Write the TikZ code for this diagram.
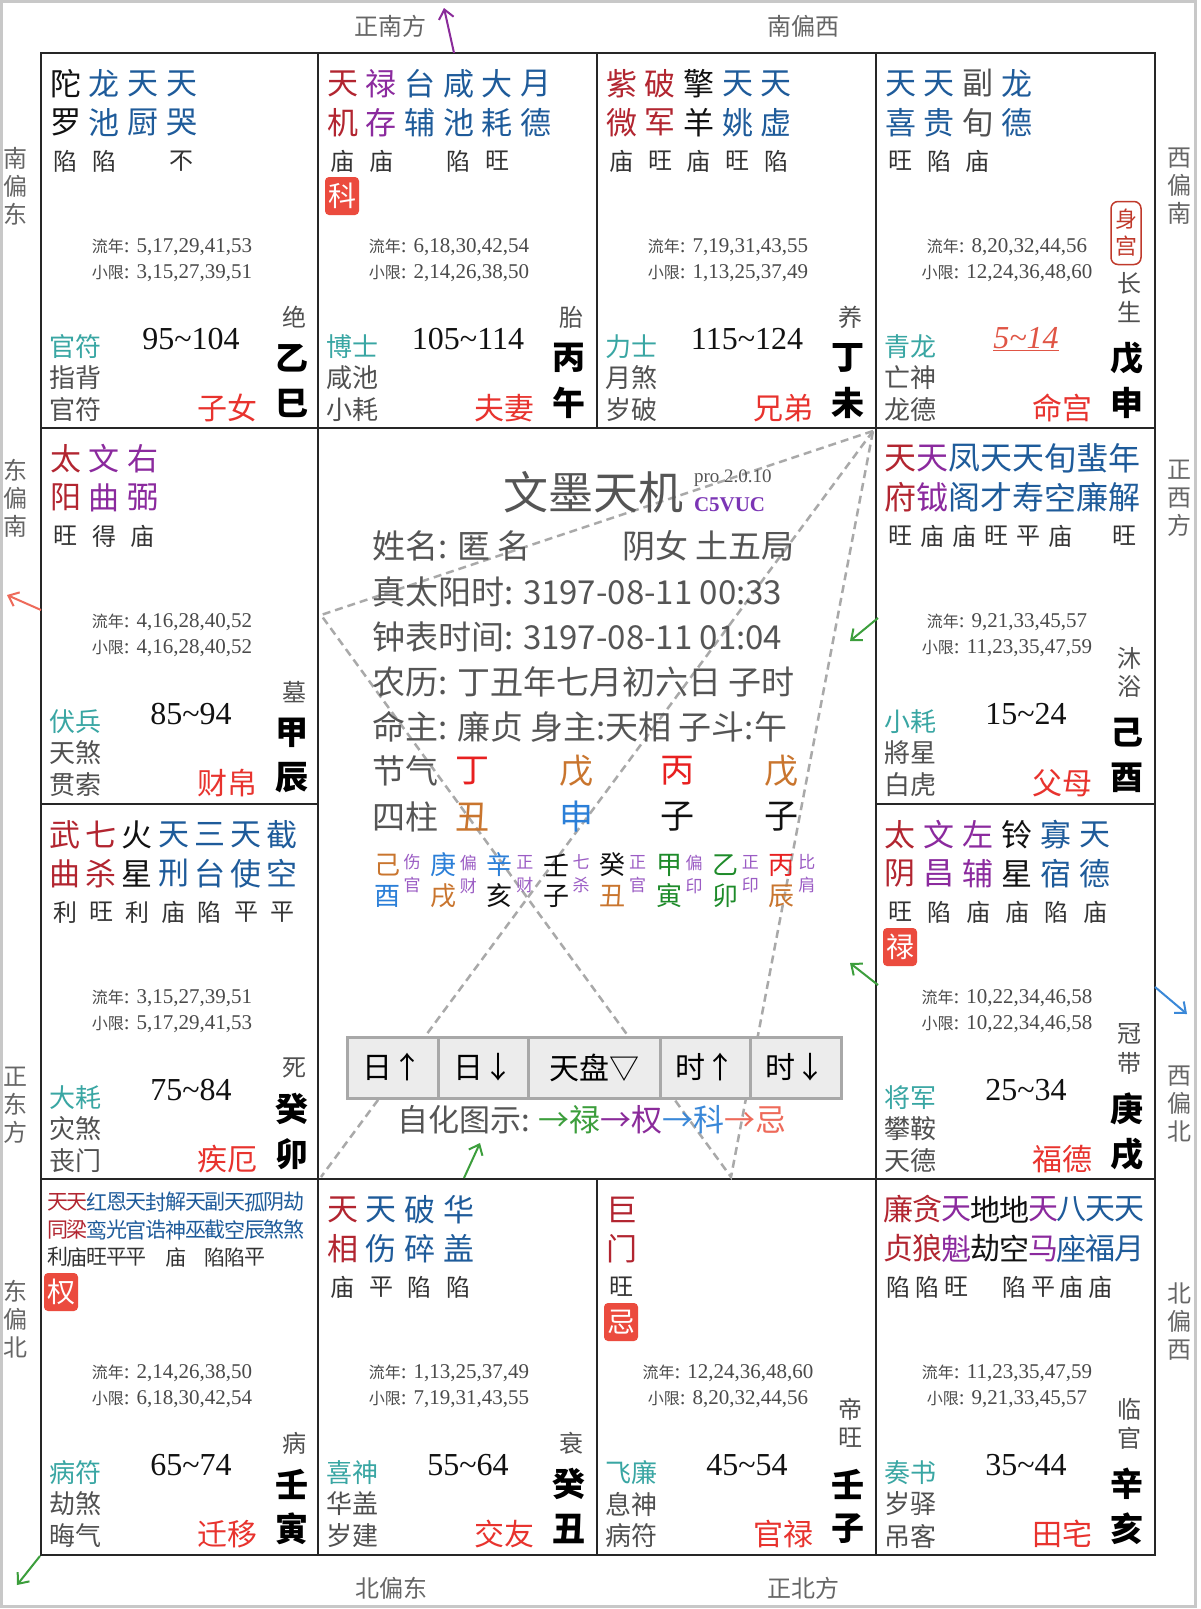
\documentclass[tikz,border=0pt]{standalone}
\usepackage{fontspec}
\setmainfont{Liberation Serif}
\newfontfamily\cjk{Noto Sans CJK SC}
\usetikzlibrary{arrows.meta}
\definecolor{cdr}{HTML}{B22530}
\definecolor{cpu}{HTML}{8B2A9E}
\definecolor{cbl}{HTML}{1E5B9A}
\definecolor{cbk}{HTML}{111111}
\definecolor{cgy}{HTML}{505050}
\definecolor{cbr}{HTML}{333333}
\definecolor{ctl}{HTML}{39A6A3}
\definecolor{cred}{HTML}{E8332E}
\definecolor{cln}{HTML}{4A4A4A}
\definecolor{cff}{HTML}{555555}
\definecolor{cbadge}{HTML}{EB4B3E}
\definecolor{cdir}{HTML}{666666}
\definecolor{cor}{HTML}{C9752E}
\definecolor{cblu}{HTML}{2B7FD8}
\definecolor{cgr}{HTML}{1E8B2A}
\definecolor{cst}{HTML}{E82020}
\definecolor{clab}{HTML}{9B5CC4}
\definecolor{ccode}{HTML}{7B35B5}
\definecolor{agr}{HTML}{3C9E3C}
\definecolor{apu}{HTML}{8A2B9A}
\definecolor{are}{HTML}{EE6A5A}
\definecolor{abl}{HTML}{3A88D8}
\definecolor{cshen}{HTML}{C0392B}
\definecolor{cage}{HTML}{E05545}
\definecolor{cbtn}{HTML}{ECECEC}
\definecolor{cbtnb}{HTML}{A8A8A8}
\definecolor{cframe}{HTML}{C8C8C8}
\definecolor{cdash}{HTML}{A9A9A9}
\newcommand\F[1]{\fontsize{#1}{#1}\selectfont}
\newcommand\tld{{\char"7E}}
\newcommand\CP{x}
\newcommand\Fsz{31}
\newcommand\Bsz{24}
\newcommand\Pit{38.7}
\newcommand\Xo{24.5}
\newcommand\Ya{30.5}
\newcommand\Yb{69.5}
\newcommand\Yc{108}
\tikzset{
 st/.style={font=\cjk\F{\Fsz}},
 bt/.style={font=\cjk\F{\Bsz},text=cbr},
 ln/.style={font=\F{21},text=cln},
 tl/.style={font=\cjk\F{26},text=ctl},
 dg/.style={font=\cjk\F{26},text=cgy},
 agebox/.style={font=\F{32},text=cbk},
 pn/.style={font=\cjk\F{30},text=cred},
 sb/.style={font=\cjk\bfseries\F{33},text=black},
 cs/.style={font=\cjk\F{24},text=cgy},
 badge/.style={fill=cbadge,text=white,rounded corners=4pt,minimum width=34pt,minimum height=38pt,font=\cjk\F{28}},
 hdir/.style={font=\cjk\F{24},text=cdir},
 vdir/.style={font=\cjk\fontsize{24}{28}\selectfont,text=cdir,align=center},
 cellline/.style={draw=black!85,line width=1.4pt},
 dashln/.style={draw=cdash,line width=2.5pt,dash pattern=on 8pt off 5pt},
 arr/.style={line width=2pt,-{Straight Barb[length=9pt,width=15pt]}},
 info/.style={font=\cjk\F{33},text=cff,anchor=west},
 gz/.style={font=\cjk\F{34}},
 hs/.style={font=\cjk\F{26}},
 hl/.style={font=\cjk\fontsize{17}{23}\selectfont,text=clab,align=center},
 btn/.style={fill=cbtn,draw=cbtnb,line width=3pt,minimum height=61pt,font=\cjk\F{30},text=black},
}
\newcommand\St[5]{%
 \node[st,text=#2] (\CP a#1) at ({\Xo+#1*\Pit},\Ya) {#3};
 \node[st,text=#2] (\CP b#1) at ({\Xo+#1*\Pit},\Yb) {#4};
 \node[bt] (\CP c#1) at ({\Xo+#1*\Pit},\Yc) {#5};}
\newcommand\Ln[2]{%
 \node[ln] (\CP ln1) at (131,194) {{\cjk\F{16}流年}: #1};
 \node[ln] (\CP ln2) at (131,220) {{\cjk\F{16}小限}: #2};}
\newcommand\Bot[7]{%
 \node[tl,anchor=west] (\CP g1) at (8,294) {#1};
 \node[dg,anchor=west] (\CP g2) at (8,325) {#2};
 \node[dg,anchor=west] (\CP g3) at (8,357) {#3};
 \node[agebox] (\CP ag) at (150,286) {#4};
 \node[pn] (\CP pn) at (186,355) {#5};
 \node[sb] (\CP sa) at (251,305) {#6};
 \node[sb] (\CP sbb) at (251,350) {#7};}
\newcommand\CsA[1]{\node[cs] (\CP cs) at (253,264) {#1};}
\newcommand\CsB[2]{\node[cs] (\CP csa) at (253,230) {#1};\node[cs] (\CP csb) at (253,259) {#2};}
\newcommand\Bd[1]{\node[badge] (\CP bd) at (24,143) {#1};}
\newcommand\Hs[7]{%
 \node[hs,text=#2] (hs#1a) at ({387+#1*56.4},865) {#3};
 \node[hs,text=#4] (hs#1b) at ({387+#1*56.4},896) {#5};
 \node[hl] (hs#1l) at ({412+#1*56.4},874) {#6\\#7};}
\begin{document}
\begin{tikzpicture}[x=1pt,y=-1pt,every node/.style={inner sep=0pt,outer sep=0pt}]
\useasboundingbox (0,0) rectangle (1200,1609);
\fill[white] (0,0) rectangle (1200,1609);
\draw[cframe,line width=3pt] (1.5,1.5) rectangle (1195.5,1606);
% grid
\draw[cellline] (41,53) rectangle (1155,1555);
\draw[cellline] (41,428) -- (1155,428);
\draw[cellline] (41,1179) -- (1155,1179);
\draw[cellline] (41,804) -- (318,804);
\draw[cellline] (876,804) -- (1155,804);
\draw[cellline] (318,53) -- (318,1555);
\draw[cellline] (876,53) -- (876,1555);
\draw[cellline] (597,53) -- (597,428);
\draw[cellline] (597,1179) -- (597,1555);
% directions
\node[hdir] (d1) at (390,26) {正南方};
\node[hdir] (d2) at (803,26) {南偏西};
\node[hdir] (d3) at (391,1588) {北偏东};
\node[hdir] (d4) at (803,1588) {正北方};
\node[vdir] (d5) at (16,186) {南\\偏\\东};
\node[vdir] (d6) at (16,498) {东\\偏\\南};
\node[vdir] (d7) at (16,1105) {正\\东\\方};
\node[vdir] (d8) at (16,1319) {东\\偏\\北};
\node[vdir] (d9) at (1179,186) {西\\偏\\南};
\node[vdir] (d10) at (1179,498) {正\\西\\方};
\node[vdir] (d11) at (1179,1104) {西\\偏\\北};
\node[vdir] (d12) at (1179,1322) {北\\偏\\西};
% dashed lines
\coordinate (pA) at (873,431);
\coordinate (pChen) at (321,615);
\coordinate (pZi) at (731,1177);
\coordinate (pYin) at (321,1177);
\draw[dashln] (pA) -- (pChen) -- (pZi) -- cycle;
\draw[dashln] (pA) -- (pYin);
% arrows
\coordinate (a1s) at (454,53); \coordinate (a1e) at (444,8);
\draw[arr,apu] (a1s) -- (a1e);
\coordinate (a2s) at (41,610); \coordinate (a2e) at (7,595);
\draw[arr,are] (a2s) -- (a2e);
\coordinate (a3s) at (878,618); \coordinate (a3e) at (850,641);
\draw[arr,agr] (a3s) -- (a3e);
\coordinate (a4s) at (878,985); \coordinate (a4e) at (850,963);
\draw[arr,agr] (a4s) -- (a4e);
\coordinate (a5s) at (1155,987); \coordinate (a5e) at (1187,1014);
\draw[arr,abl] (a5s) -- (a5e);
\coordinate (a6s) at (464,1178); \coordinate (a6e) at (480,1143);
\draw[arr,agr] (a6s) -- (a6e);
\coordinate (a7s) at (40,1556); \coordinate (a7e) at (17,1585);
\draw[arr,agr] (a7s) -- (a7e);
% ===== cells =====
% si
\begin{scope}[shift={(41,53)}]\renewcommand\CP{si}
\St{0}{cbk}{陀}{罗}{陷}\St{1}{cbl}{龙}{池}{陷}\St{2}{cbl}{天}{厨}{}\St{3}{cbl}{天}{哭}{不}
\Ln{5,17,29,41,53}{3,15,27,39,51}
\Bot{官符}{指背}{官符}{95\tld104}{子女}{乙}{巳}\CsA{绝}
\end{scope}
% wu
\begin{scope}[shift={(318,53)}]\renewcommand\CP{wu}
\St{0}{cdr}{天}{机}{庙}\St{1}{cpu}{禄}{存}{庙}\St{2}{cbl}{台}{辅}{}\St{3}{cbl}{咸}{池}{陷}\St{4}{cbl}{大}{耗}{旺}\St{5}{cbl}{月}{德}{}
\Bd{科}
\Ln{6,18,30,42,54}{2,14,26,38,50}
\Bot{博士}{咸池}{小耗}{105\tld114}{夫妻}{丙}{午}\CsA{胎}
\end{scope}
% wei
\begin{scope}[shift={(597,53)}]\renewcommand\CP{wei}
\St{0}{cdr}{紫}{微}{庙}\St{1}{cdr}{破}{军}{旺}\St{2}{cbk}{擎}{羊}{庙}\St{3}{cbl}{天}{姚}{旺}\St{4}{cbl}{天}{虚}{陷}
\Ln{7,19,31,43,55}{1,13,25,37,49}
\Bot{力士}{月煞}{岁破}{115\tld124}{兄弟}{丁}{未}\CsA{养}
\end{scope}
% shen
\begin{scope}[shift={(876,53)}]\renewcommand\CP{shen}
\St{0}{cbl}{天}{喜}{旺}\St{1}{cbl}{天}{贵}{陷}\St{2}{cgy}{副}{旬}{庙}\St{3}{cbl}{龙}{德}{}
\Ln{8,20,32,44,56}{12,24,36,48,60}
\Bot{青龙}{亡神}{龙德}{}{命宫}{戊}{申}\CsB{长}{生}
\node[draw=cshen,line width=1.5pt,rounded corners=7pt,minimum width=30pt,minimum height=63pt,align=center,font=\cjk\fontsize{22}{27}\selectfont,text=cshen] (shenbd) at (250,180) {身\\宫};
\node[font=\itshape\F{32},text=cage] (shenage) at (150,286) {\underline{5\tld14}};
\end{scope}
% chen
\begin{scope}[shift={(41,428)}]\renewcommand\CP{chen}
\St{0}{cdr}{太}{阳}{旺}\St{1}{cpu}{文}{曲}{得}\St{2}{cpu}{右}{弼}{庙}
\Ln{4,16,28,40,52}{4,16,28,40,52}
\Bot{伏兵}{天煞}{贯索}{85\tld94}{财帛}{甲}{辰}\CsA{墓}
\end{scope}
% you
\begin{scope}[shift={(876,428)}]\renewcommand\CP{you}
\renewcommand\Pit{32.1}\renewcommand\Xo{24}\renewcommand\Fsz{32}
\St{0}{cdr}{天}{府}{旺}\St{1}{cpu}{天}{钺}{庙}\St{2}{cbl}{凤}{阁}{庙}\St{3}{cbl}{天}{才}{旺}\St{4}{cbl}{天}{寿}{平}\St{5}{cbl}{旬}{空}{庙}\St{6}{cbl}{蜚}{廉}{}\St{7}{cbl}{年}{解}{旺}
\Ln{9,21,33,45,57}{11,23,35,47,59}
\Bot{小耗}{將星}{白虎}{15\tld24}{父母}{己}{酉}\CsB{沐}{浴}
\end{scope}
% mao
\begin{scope}[shift={(41,804)}]\renewcommand\CP{mao}
\renewcommand\Pit{36.2}\renewcommand\Xo{24}
\St{0}{cdr}{武}{曲}{利}\St{1}{cdr}{七}{杀}{旺}\St{2}{cbk}{火}{星}{利}\St{3}{cbl}{天}{刑}{庙}\St{4}{cbl}{三}{台}{陷}\St{5}{cbl}{天}{使}{平}\St{6}{cbl}{截}{空}{平}
\Ln{3,15,27,39,51}{5,17,29,41,53}
\Bot{大耗}{灾煞}{丧门}{75\tld84}{疾厄}{癸}{卯}\CsA{死}
\end{scope}
% xu
\begin{scope}[shift={(876,804)}]\renewcommand\CP{xu}
\renewcommand\Xo{24}\renewcommand\Pit{39}
\St{0}{cdr}{太}{阴}{旺}\St{1}{cpu}{文}{昌}{陷}\St{2}{cpu}{左}{辅}{庙}\St{3}{cbk}{铃}{星}{庙}\St{4}{cbl}{寡}{宿}{陷}\St{5}{cbl}{天}{德}{庙}
\Bd{禄}
\Ln{10,22,34,46,58}{10,22,34,46,58}
\Bot{将军}{攀鞍}{天德}{25\tld34}{福德}{庚}{戌}\CsB{冠}{带}
\end{scope}
% yin
\begin{scope}[shift={(41,1179)}]\renewcommand\CP{yin}
\renewcommand\Pit{19.7}\renewcommand\Xo{16.6}\renewcommand\Fsz{21}\renewcommand\Bsz{21}
\renewcommand\Ya{23}\renewcommand\Yb{51}\renewcommand\Yc{78}
\St{0}{cdr}{天}{同}{利}\St{1}{cdr}{天}{梁}{庙}\St{2}{cbl}{红}{鸾}{旺}\St{3}{cbl}{恩}{光}{平}\St{4}{cbl}{天}{官}{平}\St{5}{cbl}{封}{诰}{}\St{6}{cbl}{解}{神}{庙}\St{7}{cbl}{天}{巫}{}\St{8}{cbl}{副}{截}{陷}\St{9}{cbl}{天}{空}{陷}\St{10}{cbl}{孤}{辰}{平}\St{11}{cbl}{阴}{煞}{}\St{12}{cbl}{劫}{煞}{}
\node[badge] (yinbd) at (20,113) {权};
\Ln{2,14,26,38,50}{6,18,30,42,54}
\Bot{病符}{劫煞}{晦气}{65\tld74}{迁移}{壬}{寅}\CsA{病}
\end{scope}
% chou
\begin{scope}[shift={(318,1179)}]\renewcommand\CP{chou}
\St{0}{cdr}{天}{相}{庙}\St{1}{cbl}{天}{伤}{平}\St{2}{cbl}{破}{碎}{陷}\St{3}{cbl}{华}{盖}{陷}
\Ln{1,13,25,37,49}{7,19,31,43,55}
\Bot{喜神}{华盖}{岁建}{55\tld64}{交友}{癸}{丑}\CsA{衰}
\end{scope}
% zi
\begin{scope}[shift={(597,1179)}]\renewcommand\CP{zi}
\St{0}{cdr}{巨}{门}{旺}
\Bd{忌}
\Ln{12,24,36,48,60}{8,20,32,44,56}
\Bot{飞廉}{息神}{病符}{45\tld54}{官禄}{壬}{子}\CsB{帝}{旺}
\end{scope}
% hai
\begin{scope}[shift={(876,1179)}]\renewcommand\CP{hai}
\renewcommand\Pit{28.9}\renewcommand\Xo{22.5}\renewcommand\Fsz{30}
\St{0}{cdr}{廉}{贞}{陷}\St{1}{cdr}{贪}{狼}{陷}\St{2}{cpu}{天}{魁}{旺}\St{3}{cbk}{地}{劫}{}\St{4}{cbk}{地}{空}{陷}\St{5}{cpu}{天}{马}{平}\St{6}{cbl}{八}{座}{庙}\St{7}{cbl}{天}{福}{庙}\St{8}{cbl}{天}{月}{}
\Ln{11,23,35,47,59}{9,21,33,45,57}
\Bot{奏书}{岁驿}{吊客}{35\tld44}{田宅}{辛}{亥}\CsB{临}{官}
\end{scope}
% ===== center =====
\node[font=\cjk\F{45},text=cff] (title) at (593,492) {文墨天机};
\node[anchor=west,font=\F{19},text=cff] (ver) at (694,478) {pro 2.0.10};
\node[anchor=west,font=\bfseries\F{21},text=ccode] (code) at (694,505) {C5VUC};
\node[info] (i1) at (372,546) {姓名: 匿 名};
\node[info] (i1b) at (622,546) {阴女 土五局};
\node[info] (i2) at (372,592) {真太阳时: 3197-08-11 00:33};
\node[info] (i3) at (372,637) {钟表时间: 3197-08-11 01:04};
\node[info] (i4) at (372,682) {农历: 丁丑年七月初六日 子时};
\node[info] (i5) at (372,727) {命主: 廉贞 身主:天相 子斗:午};
\node[info] (i6) at (372,771) {节气};
\node[info] (i7) at (372,817) {四柱};
\node[gz,text=cst] (jq1) at (472,771) {丁};
\node[gz,text=cor] (jq2) at (576,771) {戊};
\node[gz,text=cst] (jq3) at (677,771) {丙};
\node[gz,text=cor] (jq4) at (781,771) {戊};
\node[gz,text=cor] (sz1) at (472,817) {丑};
\node[gz,text=cblu] (sz2) at (576,817) {申};
\node[gz,text=cbk] (sz3) at (677,817) {子};
\node[gz,text=cbk] (sz4) at (781,817) {子};
\Hs{0}{cor}{己}{cblu}{酉}{伤}{官}
\Hs{1}{cblu}{庚}{cor}{戌}{偏}{财}
\Hs{2}{cblu}{辛}{cbk}{亥}{正}{财}
\Hs{3}{cbk}{壬}{cbk}{子}{七}{杀}
\Hs{4}{cbk}{癸}{cor}{丑}{正}{官}
\Hs{5}{cgr}{甲}{cgr}{寅}{偏}{印}
\Hs{6}{cgr}{乙}{cgr}{卯}{正}{印}
\Hs{7}{cst}{丙}{cor}{辰}{比}{肩}
% buttons
\node[btn,minimum width=91pt] (b1) at (392.5,1067.5) {日↑};
\node[btn,minimum width=90pt] (b2) at (483,1067.5) {日↓};
\node[btn,minimum width=132pt] (b3) at (594,1067.5) {天盘▽};
\node[btn,minimum width=90pt] (b4) at (705,1067.5) {时↑};
\node[btn,minimum width=91pt] (b5) at (795.5,1067.5) {时↓};
\node[font=\cjk\F{31},text=cff,anchor=west] (zh) at (397,1120) {自化图示: \textcolor{agr}{→禄}\textcolor{apu}{→权}\textcolor{abl}{→科}\textcolor{are}{→忌}};
\end{tikzpicture}
\end{document}
